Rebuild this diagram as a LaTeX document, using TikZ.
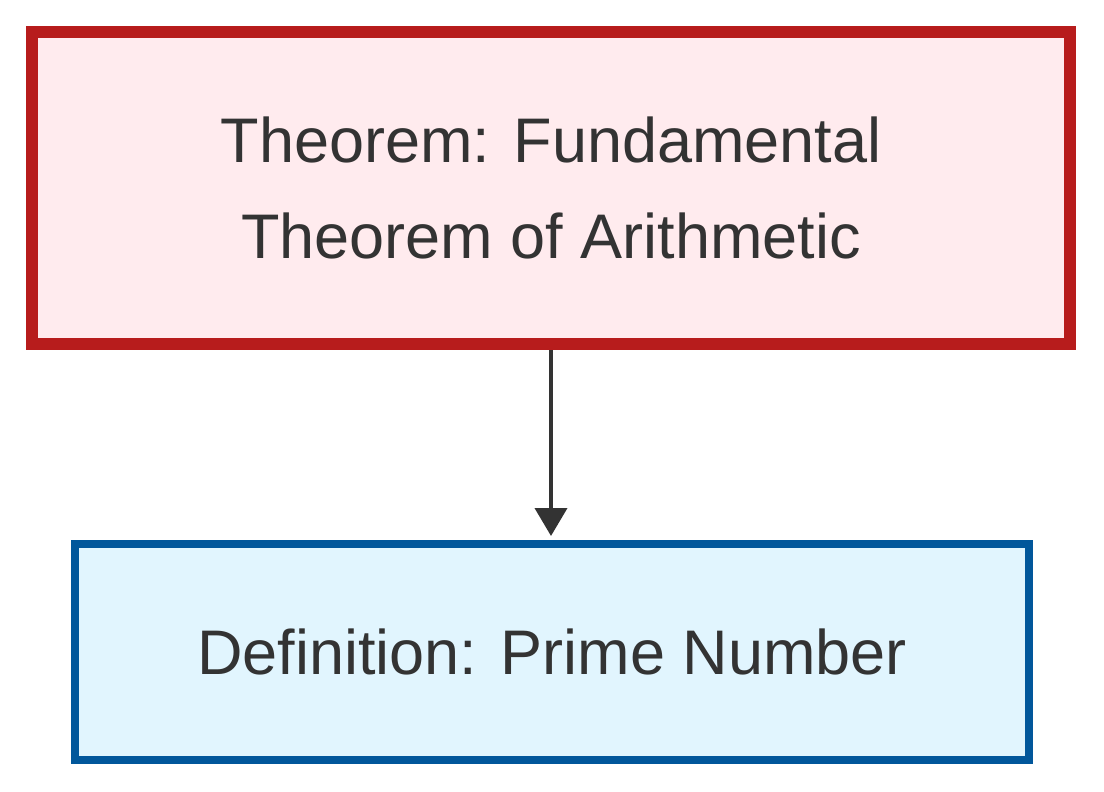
\documentclass[tikz,border=0pt]{standalone}
\usepackage{fontspec}
\setmainfont{Liberation Sans}
\usetikzlibrary{arrows.meta}
\definecolor{thmfill}{HTML}{FFEBEE}
\definecolor{thmdraw}{HTML}{B71C1C}
\definecolor{deffill}{HTML}{E1F5FE}
\definecolor{defdraw}{HTML}{01579B}
\definecolor{ink}{HTML}{333333}
\begin{document}
\begin{tikzpicture}[x=1pt, y=-1pt,
    box/.style={rectangle, text=ink, align=center, inner sep=0pt,
      font=\fontsize{63}{96}\selectfont},
    thmbox/.style={box, fill=thmfill, draw=thmdraw, line width=12pt,
      minimum width=1038pt, minimum height=312pt},
    defbox/.style={box, fill=deffill, draw=defdraw, line width=8pt,
      minimum width=954pt, minimum height=216pt},
    link/.style={draw=ink, line width=4pt, -{Triangle[width=32pt, length=28pt]}}]
\useasboundingbox (0,0) rectangle (1104,792);
\node[thmbox] (fta) at (551,188) {Theorem: Fundamental\\Theorem of Arithmetic};
\node[defbox] (prime) at (552,652) {Definition: Prime Number};
\draw[link, shorten >=4pt] (fta.south) -- (prime.north -| fta.south);
\end{tikzpicture}
\end{document}
